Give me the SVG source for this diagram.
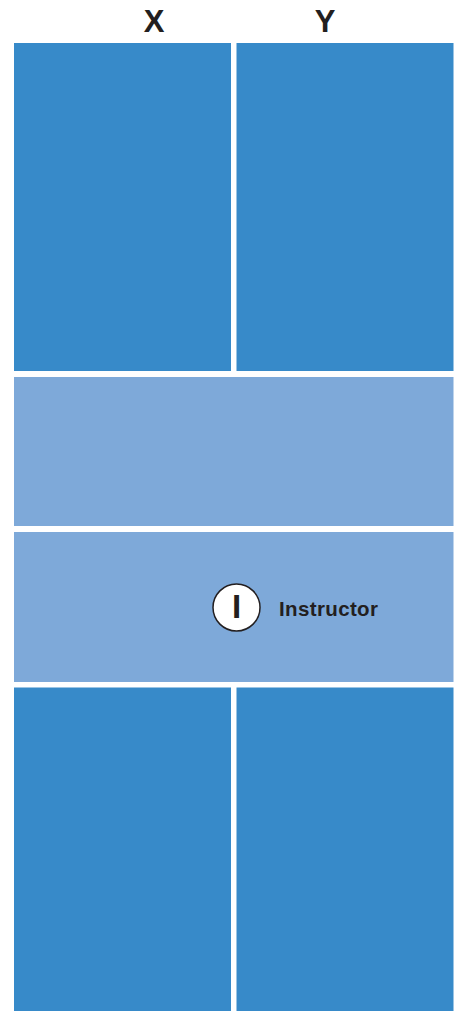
<svg xmlns="http://www.w3.org/2000/svg" width="455" height="1011" viewBox="0 0 455 1011">
<style>
.dark{fill:#378ac9}
.light{fill:#7ea9d9}
.hdr{font-family:"Liberation Sans",Arial,sans-serif;font-weight:bold;font-size:31px;fill:#231f20;text-anchor:middle}
.lbl{font-family:"Liberation Sans",Arial,sans-serif;font-weight:bold;font-size:20.5px;fill:#231f20}
</style>
<rect width="455" height="1011" fill="#ffffff"/>
<g id="header-x"><text class="hdr" x="154" y="32">X</text></g>
<g id="header-y"><text class="hdr" x="325" y="32">Y</text></g>
<g id="zone-top-x"><rect class="dark" x="14" y="43" width="217" height="328"/></g>
<g id="zone-top-y"><rect class="dark" x="236.5" y="43" width="217" height="328"/></g>
<g id="band-1"><rect class="light" x="14" y="377" width="439.5" height="149"/></g>
<g id="band-2"><rect class="light" x="14" y="532" width="439.5" height="150"/></g>
<g id="zone-bottom-x"><rect class="dark" x="14" y="687.5" width="217" height="324"/></g>
<g id="zone-bottom-y"><rect class="dark" x="236.5" y="687.5" width="217" height="324"/></g>
<g id="instructor">
<circle cx="236.5" cy="607.5" r="23.5" fill="#ffffff" stroke="#231f20" stroke-width="1.5"/>
<text x="236.5" y="618" font-family="Liberation Sans, Arial, sans-serif" font-weight="bold" font-size="33" fill="#231f20" text-anchor="middle">I</text>
<text class="lbl" x="279" y="615.5" textLength="99">Instructor</text>
</g>
<g id="connectors"/>
</svg>
